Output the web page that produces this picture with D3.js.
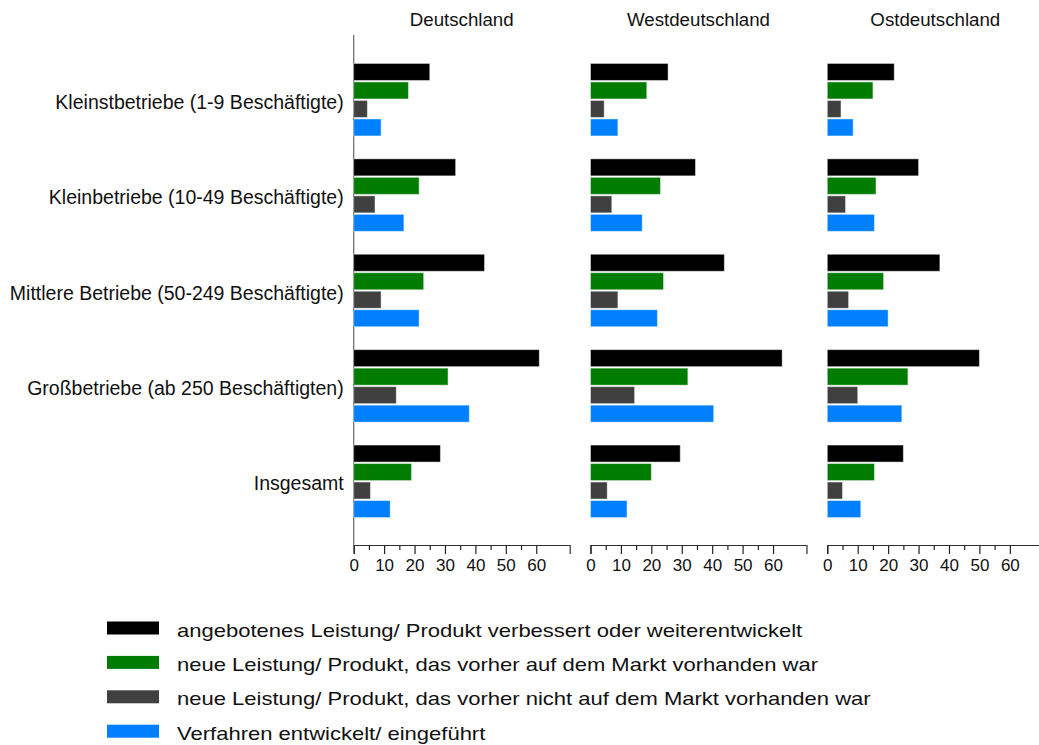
<!DOCTYPE html>
<html>
<head>
<meta charset="utf-8">
<script src="https://cdn.jsdelivr.net/npm/d3@7"></script>
<style>
  body { margin: 0; background: #fff; }
  text { font-family: "Liberation Sans", Arial, sans-serif; fill: #111; }
</style>
</head>
<body>
<div id="chart"></div>
<script>
// ---------- data ----------
var regions = ["Deutschland", "Westdeutschland", "Ostdeutschland"];
var categories = [
  "Kleinstbetriebe (1-9 Beschäftigte)",
  "Kleinbetriebe (10-49 Beschäftigte)",
  "Mittlere Betriebe (50-249 Beschäftigte)",
  "Großbetriebe (ab 250 Beschäftigten)",
  "Insgesamt"
];
var seriesNames = [
  "angebotenes Leistung/ Produkt verbessert oder weiterentwickelt",
  "neue Leistung/ Produkt, das vorher auf dem Markt vorhanden war",
  "neue Leistung/ Produkt, das vorher nicht auf dem Markt vorhanden war",
  "Verfahren entwickelt/ eingeführt"
];
var seriesColors = ["#000000", "#007c00", "#404040", "#0080ff"];

// one row per series, one value per category
var valuesDeutschland = [
  [25, 33.5, 43, 61, 28.5],
  [18, 21.5, 23, 31, 19],
  [4.5, 7, 9, 14, 5.5],
  [9, 16.5, 21.5, 38, 12]
];
var valuesWest = [
  [25.5, 34.5, 44, 63, 29.5],
  [18.5, 23, 24, 32, 20],
  [4.5, 7, 9, 14.5, 5.5],
  [9, 17, 22, 40.5, 12]
];
var valuesOst = [
  [22, 30, 37, 50, 25],
  [15, 16, 18.5, 26.5, 15.5],
  [4.5, 6, 7, 10, 5],
  [8.5, 15.5, 20, 24.5, 11]
];
var regionValues = [valuesDeutschland, valuesWest, valuesOst];
var tickValues = [0, 5, 10, 15, 20, 25, 30, 35, 40, 45, 50, 55, 60];

// ---------- layout ----------
var w = 1039, h = 745;
var axisY = 545;

var svg = d3.select("#chart").append("svg")
  .attr("width", w)
  .attr("height", h);

var panel = d3.scaleBand()
  .domain(regions)
  .range([353.7, 1043.3])
  .paddingInner(0.0878);

var x = d3.scaleLinear().domain([0, 71]).range([0, panel.bandwidth()]);

var y = d3.scaleBand()
  .domain(categories)
  .range([52, 529])
  .paddingInner(0.24)
  .paddingOuter(0.12);

var ySub = d3.scaleBand()
  .domain(d3.range(seriesNames.length))
  .range([0, y.bandwidth()])
  .paddingInner(0.08);

// category labels
svg.selectAll("text.cat")
  .data(categories)
  .enter()
  .append("text")
  .attr("class", "cat")
  .attr("x", panel(regions[0]) - 10)
  .attr("y", function(d) { return y(d) + y.bandwidth() / 2 + 9; })
  .attr("text-anchor", "end")
  .attr("font-size", "19.5px")
  .text(function(d) { return d; });

// vertical axis line on first panel
svg.append("line")
  .attr("x1", panel(regions[0]))
  .attr("x2", panel(regions[0]))
  .attr("y1", 35)
  .attr("y2", axisY)
  .attr("stroke", "#666")
  .attr("stroke-width", 1.2);

regions.forEach(function(r, ri) {
  var g = svg.append("g").attr("transform", "translate(" + panel(r) + ",0)");

  // panel title
  g.append("text")
    .attr("x", panel.bandwidth() / 2)
    .attr("y", 26)
    .attr("text-anchor", "middle")
    .attr("font-size", "18.7px")
    .text(r);

  // bars
  var rows = [];
  regionValues[ri].forEach(function(vals, si) {
    vals.forEach(function(v, ci) {
      rows.push({ s: si, c: categories[ci], v: v });
    });
  });

  g.selectAll("rect")
    .data(rows)
    .enter()
    .append("rect")
    .attr("x", x(0))
    .attr("y", function(d) { return y(d.c) + ySub(d.s); })
    .attr("width", function(d) { return x(d.v) - x(0); })
    .attr("height", ySub.bandwidth())
    .attr("fill", function(d) { return seriesColors[d.s]; })
    .attr("stroke", "#fff")
    .attr("stroke-opacity", 0.45)
    .attr("stroke-width", 1);

  // bottom axis
  var ax = g.append("g")
    .attr("transform", "translate(0," + axisY + ")")
    .call(d3.axisBottom(x)
      .tickValues(tickValues)
      .tickSizeOuter(0)
      .tickSize(9)
      .tickPadding(5)
      .tickFormat(function(d) { return d % 10 === 0 ? d : ""; }));

  ax.select(".domain").attr("stroke", "#333").attr("stroke-width", 1.2);
  ax.selectAll(".tick line")
    .attr("stroke", "#222")
    .attr("stroke-width", 1.2)
    .attr("y2", function(d) { return d % 10 === 0 ? 9 : 5; });
  ax.selectAll(".tick text")
    .attr("font-family", "Liberation Sans, Arial, sans-serif")
    .attr("font-size", "17px")
    .attr("fill", "#111");
});

// legend
var legend = svg.append("g").attr("transform", "translate(107,628)");
var items = legend.selectAll("g")
  .data(seriesNames)
  .enter()
  .append("g")
  .attr("transform", function(d, i) { return "translate(0," + (i * 34.4) + ")"; });

items.append("rect")
  .attr("x", 0)
  .attr("y", -6.5)
  .attr("width", 52)
  .attr("height", 13)
  .attr("fill", function(d, i) { return seriesColors[i]; });

items.append("text")
  .attr("transform", "translate(70,8.5) scale(1.19,1)")
  .attr("font-size", "18.5px")
  .text(function(d) { return d; });
</script>
</body>
</html>
